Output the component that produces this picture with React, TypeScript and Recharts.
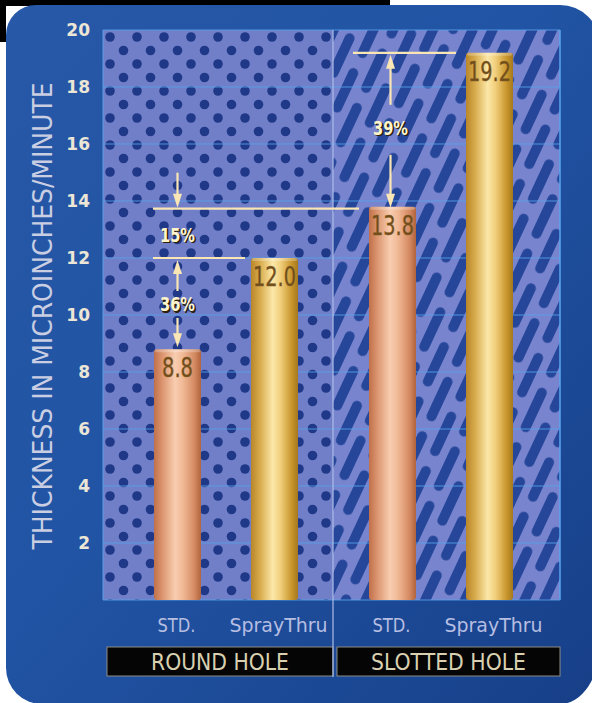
import React from 'react';
import {
  BarChart,
  Bar,
  XAxis,
  YAxis,
  CartesianGrid,
  LabelList,
  ReferenceLine
} from 'recharts';

// chart values
const groups = ['ROUND HOLE', 'SLOTTED HOLE'];
const seriesNames = ['STD.', 'SprayThru'];
const stdThickness = [8.8, 13.8];
const sprayThickness = [12.0, 19.2];
const yTicks = [2, 4, 6, 8, 10, 12, 14, 16, 18, 20];
const gains = ['36%', '15%', '39%'];
const axisTitle = 'THICKNESS IN MICROINCHES/MINUTE';

const data = groups.map((g, i) => ({ group: g, std: stdThickness[i], spray: sprayThickness[i] }));

// layout
const W = 592;
const H = 703;
const MARGIN = { top: 30, right: 32, bottom: 23, left: 63 };
const Y_AXIS_W = 40;
const X_AXIS_H = 80;
const PAD_L = 15;
const PAD_R = 12;
const BAR_W = 47;
const BAR_GAP = 50;
const PLOT_L = MARGIN.left + Y_AXIS_W;
const PLOT_R = W - MARGIN.right;
const PLOT_T = MARGIN.top;
const PLOT_B = H - MARGIN.bottom - X_AXIS_H;
const GROUP_STEP = (PLOT_R - PLOT_L - PAD_L - PAD_R) / groups.length;
const DIVIDER_X = PLOT_L + PAD_L + GROUP_STEP;

const NARROW = "'DejaVu Sans Condensed', 'Liberation Sans Narrow', 'DejaVu Sans', sans-serif";
const CREAM = '#f9e6b4';

const Arrow = ({ x, from, to }: any) => {
  const dir = to > from ? 1 : -1;
  return (
    <g>
      <line x1={x} x2={x} y1={from} y2={to - dir * 10} stroke={CREAM} strokeWidth={2.2} />
      <polygon points={`${x},${to} ${x - 4.5},${to - dir * 14} ${x + 4.5},${to - dir * 14}`} fill={CREAM} />
    </g>
  );
};

const Gain = ({ x, y, text }: any) => (
  <g fontFamily={NARROW} fontSize={19} fontWeight="bold" textAnchor="middle">
    <text x={x + 1.5} y={y + 8.5} fill="#2b2008" textLength={35} lengthAdjust="spacingAndGlyphs">{text}</text>
    <text x={x} y={y + 7} fill="#fff4cc" textLength={35} lengthAdjust="spacingAndGlyphs">{text}</text>
  </g>
);

const HLine = ({ x1, x2, y }: any) => (
  <line x1={x1} x2={x2} y1={y} y2={y} stroke={CREAM} strokeWidth={2.2} />
);

const boxOf = (props: any) => {
  const vb = props.viewBox ?? props;
  return { x: vb.x, y: vb.y, width: vb.width, height: vb.height };
};

// percentage call-outs, drawn from the STD bars
const GainMarks = (props: any) => {
  const { x, y, width, height } = boxOf(props);
  const index = props.index ?? stdThickness.indexOf(Number(props.value));
  const value = stdThickness[index];
  const k = height / value;
  const base = y + height;
  const at = (v: number) => base - v * k;
  const cx = x + width / 2;
  if (index === 0) {
    const yS = at(sprayThickness[0]);
    return (
      <g>
        <HLine x1={x - 1} x2={x + width + BAR_GAP - 6} y={yS} />
        <Arrow x={cx} from={yS + 33} to={yS + 2} />
        <Gain x={cx} y={yS + 46} text={gains[0]} />
        <Arrow x={cx} from={yS + 60} to={y - 2} />
      </g>
    );
  }
  const yS = at(sprayThickness[1]);
  const cxPrev = cx - GROUP_STEP;
  return (
    <g>
      <HLine x1={x - GROUP_STEP - 1} x2={x - 10} y={y + 2} />
      <Arrow x={cxPrev} from={y - 34} to={y + 1} />
      <Gain x={cxPrev} y={y + 28} text={gains[1]} />
      <HLine x1={x - 16} x2={x + width + BAR_GAP - 10} y={yS} />
      <Arrow x={cx - 2} from={yS + 52} to={yS + 2} />
      <Gain x={cx - 2} y={yS + 75} text={gains[2]} />
      <Arrow x={cx - 2} from={yS + 102} to={y + 1} />
    </g>
  );
};

const ValueTag = (props: any) => {
  const { x, y, width } = boxOf(props);
  const label = Number(props.value).toFixed(1);
  return (
    <text
      x={x + width / 2}
      y={y + 28}
      textAnchor="middle"
      fontFamily={NARROW}
      fontSize={26}
      fill="#6e4c1c"
      stroke="#8a6226"
      strokeWidth={0.4}
      textLength={label.length > 3 ? 43 : 31}
      lengthAdjust="spacingAndGlyphs"
    >
      {label}
    </text>
  );
};

const SeriesTag = ({ name, wide, ...props }: any) => {
  const { x, y, width, height } = boxOf(props);
  return (
    <text
      x={x + width / 2 + (wide ? 4 : -1)}
      y={y + height + 32}
      textAnchor="middle"
      fontFamily={NARROW}
      fontSize={19}
      fill="#b6bee2"
      textLength={wide ? 98 : 38}
      lengthAdjust="spacingAndGlyphs"
    >
      {name}
    </text>
  );
};

const Cylinder = (props: any) => {
  const { x, y, width, height, fill } = props;
  if (!height) return null;
  return (
    <g>
      <rect x={x} y={y} width={width} height={height} rx={3} fill={fill} />
      <rect x={x + 1} y={y} width={width - 2} height={3} rx={1.5} fill="#ffffff" opacity={0.25} />
    </g>
  );
};

const GroupTick = (props: any) => {
  const { x, y, payload, index } = props;
  const half = GROUP_STEP / 2;
  const left = x - half - (index === 0 ? PAD_L : 0) + 4;
  const right = x + half + (index === groups.length - 1 ? PAD_R : 0);
  return (
    <g>
      <rect x={left} y={y + 47} width={right - left} height={29} fill="#050505" stroke="#8c8c84" strokeWidth={1} />
      <text
        x={(left + right) / 2}
        y={y + 70}
        textAnchor="middle"
        fontFamily={NARROW}
        fontSize={23}
        fill="#d8d0b0"
        textLength={index === 0 ? 138 : 155}
        lengthAdjust="spacingAndGlyphs"
      >
        {payload.value}
      </text>
      {index > 0 && (
        <line x1={x - half} x2={x - half} y1={y} y2={y + 77} stroke="#aebde8" strokeWidth={1.2} />
      )}
    </g>
  );
};

const AxisTitle = (props: any) => {
  const vb = props.viewBox || { x: MARGIN.left, y: PLOT_T, width: Y_AXIS_W, height: PLOT_B - PLOT_T };
  const cx = vb.x - 11;
  const cy = vb.y + vb.height / 2 + 1;
  return (
    <text
      transform={`translate(${cx},${cy}) rotate(-90)`}
      textAnchor="middle"
      fontFamily={NARROW}
      fontSize={27}
      fill="#c9cee2"
      textLength={467}
      lengthAdjust="spacingAndGlyphs"
    >
      {axisTitle}
    </text>
  );
};

const Backdrop = () => (
  <svg width={W} height={H} style={{ position: 'absolute', left: 0, top: 0 }}>
    <defs>
      <linearGradient id="cardGrad" x1="0" y1="0" x2="1" y2="1">
        <stop offset="0%" stopColor="#2858a8" />
        <stop offset="45%" stopColor="#2154a4" />
        <stop offset="100%" stopColor="#173f88" />
      </linearGradient>
      <linearGradient id="copper" x1="0" y1="0" x2="1" y2="0">
        <stop offset="0%" stopColor="#c0704a" />
        <stop offset="18%" stopColor="#dc9670" />
        <stop offset="45%" stopColor="#f8cdb0" />
        <stop offset="62%" stopColor="#f0b894" />
        <stop offset="86%" stopColor="#d48a62" />
        <stop offset="100%" stopColor="#b2643c" />
      </linearGradient>
      <linearGradient id="gold" x1="0" y1="0" x2="1" y2="0">
        <stop offset="0%" stopColor="#b8862a" />
        <stop offset="20%" stopColor="#d9ad4e" />
        <stop offset="46%" stopColor="#fbe7a8" />
        <stop offset="62%" stopColor="#f2d07e" />
        <stop offset="86%" stopColor="#c9972e" />
        <stop offset="100%" stopColor="#a6781c" />
      </linearGradient>
      <pattern id="dots" width={27} height={27} patternUnits="userSpaceOnUse" x={PLOT_L} y={PLOT_T}>
        <rect width={27} height={27} fill="#717fc8" />
        <circle cx={7} cy={7} r={4.8} fill="#203888" />
        <circle cx={20.5} cy={20.5} r={4.8} fill="#203888" />
      </pattern>
      <pattern id="slots" width={36} height={60} patternUnits="userSpaceOnUse" patternTransform="rotate(25)">
        <rect width={36} height={60} fill="#7884ce" />
        <rect x={4} y={2} width={10} height={48} rx={5} fill="#26469a" />
        <rect x={22} y={32} width={10} height={48} rx={5} fill="#26469a" />
        <rect x={22} y={-28} width={10} height={48} rx={5} fill="#26469a" />
      </pattern>
    </defs>
    <rect x={0} y={0} width={390} height={6} fill="#000" />
    <rect x={0} y={0} width={6} height={42} fill="#000" />
    <path
      d="M 36 5 H 560 A 40 40 0 0 1 600 45 V 644 A 40 60 0 0 1 560 704 H 42 A 36 36 0 0 1 6 668 V 35 A 30 30 0 0 1 36 5 Z"
      fill="url(#cardGrad)"
    />
    <rect x={PLOT_L} y={PLOT_T} width={DIVIDER_X - PLOT_L} height={PLOT_B - PLOT_T} fill="url(#dots)" />
    <rect x={DIVIDER_X} y={PLOT_T} width={PLOT_R - DIVIDER_X} height={PLOT_B - PLOT_T} fill="url(#slots)" />
    <line x1={PLOT_L} x2={PLOT_L} y1={PLOT_T} y2={PLOT_B} stroke="#5a9ee6" strokeWidth={1} />
    <line x1={PLOT_R} x2={PLOT_R} y1={PLOT_T} y2={PLOT_B} stroke="#5aa6ee" strokeWidth={1.5} />
  </svg>
);

const App: React.FC = () => {
  return (
    <div style={{ position: 'absolute', left: 0, top: 0, width: W, height: H, background: '#fff' }}>
      <Backdrop />
      <div style={{ position: 'absolute', left: 0, top: 0 }}>
        <BarChart width={W} height={H} data={data} margin={MARGIN} barGap={BAR_GAP}>
          <CartesianGrid vertical={false} stroke="#58a2ea" strokeOpacity={0.85} />
          <XAxis
            dataKey="group"
            height={X_AXIS_H}
            padding={{ left: PAD_L, right: PAD_R }}
            axisLine={false}
            tickLine={false}
            tickSize={0}
            tickMargin={0}
            interval={0}
            tick={<GroupTick />}
          />
          <YAxis
            domain={[0, 20]}
            ticks={yTicks}
            width={Y_AXIS_W}
            axisLine={false}
            tickLine={false}
            tickSize={0}
            tickMargin={13}
            tick={{ fill: '#ece6d6', fontSize: 17, fontWeight: 'bold', fontFamily: "'DejaVu Sans', sans-serif" }}
            label={<AxisTitle />}
          />
          <ReferenceLine x="SLOTTED HOLE" position="start" stroke="#aebde8" strokeWidth={1.2} />
          <Bar dataKey="std" barSize={BAR_W} fill="url(#copper)" shape={<Cylinder />} isAnimationActive={false}>
            <LabelList dataKey="std" content={<ValueTag />} />
            <LabelList dataKey="std" content={<SeriesTag name={seriesNames[0]} />} />
            <LabelList dataKey="std" content={<GainMarks />} />
          </Bar>
          <Bar dataKey="spray" barSize={BAR_W} fill="url(#gold)" shape={<Cylinder />} isAnimationActive={false}>
            <LabelList dataKey="spray" content={<ValueTag />} />
            <LabelList dataKey="spray" content={<SeriesTag name={seriesNames[1]} wide />} />
          </Bar>
        </BarChart>
      </div>
    </div>
  );
};

export default App;
